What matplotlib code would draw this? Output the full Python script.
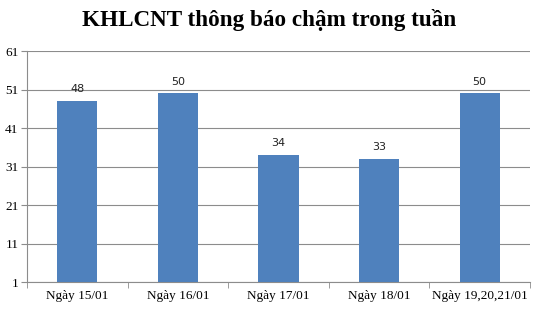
import numpy as np
import matplotlib.pyplot as plt

categories = ['Ngày 15/01', 'Ngày 16/01', 'Ngày 17/01', 'Ngày 18/01', 'Ngày 19,20,21/01']
values = [48, 50, 34, 33, 50]
yticks = [1, 11, 21, 31, 41, 51, 61]

fig = plt.figure(figsize=(5.38, 3.10), dpi=100)
ax = fig.add_axes([0.050, 0.090, 0.935, 0.745])

x = np.arange(len(categories))
bars = ax.bar(x, values, width=0.4, color='#4f81bd', zorder=3)

for xi, v in zip(x, values):
    ax.text(xi, v + 1.8, str(v), ha='center', va='bottom', fontsize=8,
            family='DejaVu Sans', color='#222222')

ax.set_xlim(-0.5, len(categories) - 0.5)
ax.set_ylim(1, 61)
ax.set_yticks(yticks)
ax.set_yticklabels([str(t) for t in yticks], family='Liberation Serif', fontsize=9.5)
ax.yaxis.grid(True, color='#8c8c8c', linewidth=0.8, zorder=0)

ax.set_xticks(x)
ax.set_xticklabels(categories, family='Liberation Serif', fontsize=9.5)
ax.tick_params(axis='x', length=0, pad=6)
ax.set_xticks(np.arange(-0.5, len(categories), 1), minor=True)
ax.tick_params(axis='x', which='minor', length=4, color='#8c8c8c')
ax.tick_params(axis='y', length=4, color='#8c8c8c', pad=2)

for side in ['top', 'right']:
    ax.spines[side].set_visible(False)
ax.spines['left'].set_color('#8c8c8c')
ax.spines['bottom'].set_color('#8c8c8c')

fig.text(0.5, 0.935, 'KHLCNT thông báo chậm trong tuần', family='Liberation Serif',
         fontweight='bold', fontsize=16.7, ha='center', va='center')

fig.savefig('out.png', dpi=100)
